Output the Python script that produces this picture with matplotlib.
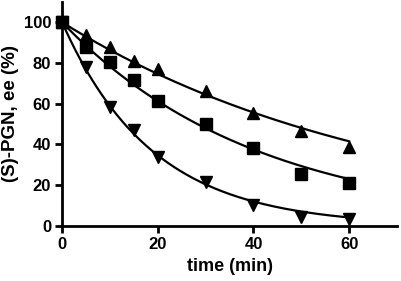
import numpy as np
import matplotlib
matplotlib.use("Agg")
import matplotlib.pyplot as plt

plt.rcParams['font.family'] = ['Liberation Sans', 'DejaVu Sans']
plt.rcParams['font.weight'] = 'bold'

# data
time = [0, 5, 10, 15, 20, 30, 40, 50, 60]
ee_up = [100, 94, 88, 81, 77, 66.5, 55.5, 46.5, 39]
ee_square = [100, 88, 80.5, 71.5, 61.5, 50, 38.5, 25.5, 21]
ee_down = [100, 78, 58.5, 47, 34, 21.5, 10.5, 4.5, 3.5]

x_ticks = [0, 20, 40, 60]
y_ticks = [0, 20, 40, 60, 80, 100]


def fit_decay(t, y):
    # first-order decay y = 100*exp(-k t), least squares on a k grid
    t = np.asarray(t, float)
    y = np.asarray(y, float)
    ks = np.linspace(0.001, 0.2, 4000)
    err = [np.sum((y - 100 * np.exp(-k * t)) ** 2) for k in ks]
    return ks[int(np.argmin(err))]


fig = plt.figure(figsize=(4.01, 2.81), dpi=100)
ax = fig.add_axes([0.155, 0.196, 0.835, 0.797])

tt = np.linspace(0, 60, 200)
for y, m in [(ee_up, '^'), (ee_square, 's'), (ee_down, 'v')]:
    k = fit_decay(time, y)
    ax.plot(tt, 100 * np.exp(-k * tt), color='black', lw=1.6, zorder=2)
    ax.plot(time, y, ls='none', marker=m, color='black', ms=8, zorder=3,
            clip_on=False)

ax.set_xlim(0, 70)
ax.set_ylim(0, 110)
ax.set_xticks(x_ticks)
ax.set_yticks(y_ticks)
for s in ['top', 'right']:
    ax.spines[s].set_visible(False)
for s in ['left', 'bottom']:
    ax.spines[s].set_linewidth(2)
ax.tick_params(width=2, length=5, labelsize=12, pad=3)
for lab in ax.get_xticklabels() + ax.get_yticklabels():
    lab.set_fontweight('bold')
ax.set_xlabel('time (min)', fontsize=13, fontweight='bold', labelpad=4)
ax.set_ylabel('(S)-PGN, ee (%)', fontsize=13.5, fontweight='bold', labelpad=3)

fig.savefig('out.png', dpi=100)
